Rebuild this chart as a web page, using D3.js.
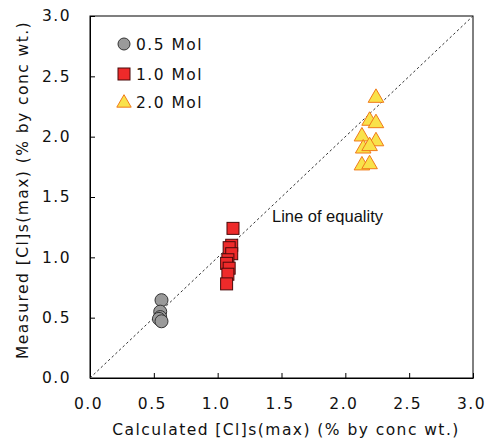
<!DOCTYPE html>
<html><head><meta charset="utf-8">
<script src="https://cdn.jsdelivr.net/npm/d3@7"></script>
<style>body{margin:0;background:#fff}svg{display:block}text{font-family:"DejaVu Sans",Verdana,sans-serif;fill:#111}</style>
</head><body><svg id="c" width="486" height="443"></svg>
<script>
const ticks = [0,0.5,1.0,1.5,2.0,2.5,3.0];
const mol05x = [0.56,0.55,0.55,0.54,0.56];
const mol05y = [0.645,0.55,0.505,0.49,0.47];
const mol10x = [1.12,1.11,1.09,1.11,1.08,1.07,1.09,1.08,1.07];
const mol10y = [1.24,1.10,1.08,1.03,0.98,0.95,0.91,0.86,0.78];
const mol20x = [2.24,2.19,2.24,2.13,2.24,2.14,2.19,2.13,2.19];
const mol20y = [2.33,2.14,2.12,2.01,1.97,1.91,1.93,1.77,1.78];
const legendLabels = ["0.5 Mol","1.0 Mol","2.0 Mol"];

const svg = d3.select("#c");
const L=90,R=473,T=16,B=378;
const FS="15.5px", LS="1.45px";
const x = d3.scaleLinear().domain([0,3]).range([L,R]);
const y = d3.scaleLinear().domain([0,3]).range([B,T]);

svg.append("rect").attr("x",L).attr("y",T).attr("width",R-L).attr("height",B-T)
  .attr("fill","none").attr("stroke","#000").attr("stroke-width",1);

const fmt = d3.format(".1f");
const gx = svg.append("g").attr("transform",`translate(0,${B})`)
  .call(d3.axisBottom(x).tickValues(ticks).tickFormat(fmt).tickSizeInner(-5).tickSizeOuter(0).tickPadding(20));
const gy = svg.append("g").attr("transform",`translate(${L},0)`)
  .call(d3.axisLeft(y).tickValues(ticks).tickFormat(fmt).tickSizeInner(-5).tickSizeOuter(0).tickPadding(19));
[gx,gy].forEach(g=>{g.select(".domain").attr("stroke","#000");
  g.selectAll("line").attr("stroke","#000");
  g.selectAll("text").style("font-size",FS).style("letter-spacing",LS).attr("fill","#111");});
gx.selectAll("text").attr("dx","-2");

svg.append("line").attr("x1",x(0)).attr("y1",y(0)).attr("x2",x(3)).attr("y2",y(3))
  .attr("stroke","#333").attr("stroke-width",1).attr("stroke-dasharray","2.5,2.5");
svg.append("text").attr("x",272).attr("y",222).style("font-family","'Liberation Sans',Arial,sans-serif")
  .style("font-size","16.5px").text("Line of equality");

svg.append("g").selectAll("circle").data(mol05x.map((v,i)=>[v,mol05y[i]])).join("circle")
  .attr("cx",d=>x(d[0])).attr("cy",d=>y(d[1])).attr("r",6.5)
  .attr("fill","#9a9a9a").attr("stroke","#333").attr("stroke-width",1);
const s=12;
svg.append("g").selectAll("rect").data(mol10x.map((v,i)=>[v,mol10y[i]])).join("rect")
  .attr("x",d=>x(d[0])-s/2).attr("y",d=>y(d[1])-s/2).attr("width",s).attr("height",s)
  .attr("fill","#ee2a2a").attr("stroke","#4a0a0a").attr("stroke-width",1);
const tri = d3.symbol().type(d3.symbolTriangle).size(105);
svg.append("g").selectAll("path").data(mol20x.map((v,i)=>[v,mol20y[i]])).join("path")
  .attr("d",tri).attr("transform",d=>`translate(${x(d[0])},${y(d[1])+1})`)
  .attr("fill","#f9e24a").attr("stroke","#f07a1a").attr("stroke-width",1);

const lg = svg.append("g");
const ly=[44,74,102];
lg.append("circle").attr("cx",124).attr("cy",ly[0]).attr("r",6).attr("fill","#9a9a9a").attr("stroke","#333");
lg.append("rect").attr("x",118).attr("y",ly[1]-6).attr("width",12).attr("height",12).attr("fill","#ee2a2a").attr("stroke","#4a0a0a");
lg.append("path").attr("d",d3.symbol().type(d3.symbolTriangle).size(90)).attr("transform",`translate(124,${ly[2]+1})`)
  .attr("fill","#f9e24a").attr("stroke","#f07a1a");
legendLabels.forEach((t,i)=>lg.append("text").attr("x",136).attr("y",ly[i]+6).style("font-size",FS).style("letter-spacing",LS).text(t));

svg.append("text").attr("x",286).attr("y",435).attr("text-anchor","middle").style("font-size",FS).style("letter-spacing",LS)
  .text("Calculated [Cl]s(max) (% by conc wt.)");
svg.append("text").attr("transform",`translate(28,190) rotate(-90)`).attr("text-anchor","middle").style("font-size",FS).style("letter-spacing",LS)
  .text("Measured [Cl]s(max) (% by conc wt.)");
</script></body></html>
